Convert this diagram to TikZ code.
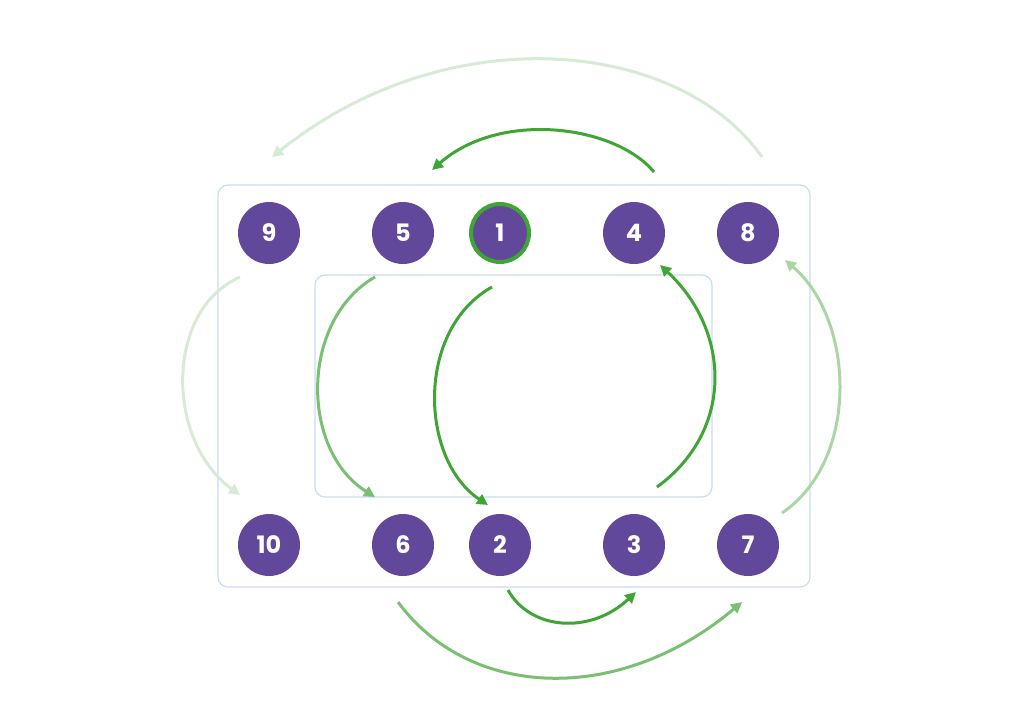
\documentclass[tikz,border=0pt]{standalone}
\usepackage{fontspec}
\setmainfont{Poppins}
\usetikzlibrary{arrows.meta}
\definecolor{pur}{HTML}{62489A}
\definecolor{grn}{HTML}{3FA535}
\definecolor{box}{HTML}{C9DDF0}
\begin{document}
\begin{tikzpicture}[x=1pt,y=-1pt,
  num/.style={circle,fill=pur,minimum size=62pt,inner sep=0pt,text=white,font=\fontsize{24}{24}\selectfont\bfseries},
  arr/.style={line width=3pt,-{Triangle[length=11pt,width=11pt]}},
  a1/.style={arr,draw=grn,color=grn},
  a2/.style={arr,draw=grn!70!white,color=grn!70!white},
  a3/.style={arr,draw=grn!45!white,color=grn!45!white},
  a4/.style={arr,draw=grn!22!white,color=grn!22!white},
  frame/.style={draw=box,line width=1.2pt,rounded corners=10pt}]
\useasboundingbox (0,0) rectangle (1024,724);
\draw[frame] (218,185) rectangle (810,587);
\draw[frame] (315,275) rectangle (712,497);
\node[num] (n9) at (269,233) {9};
\node[num] (n5) at (403,233) {5};
\node[num,draw=grn,line width=4pt,minimum size=58pt] (n1) at (500,233) {1};
\node[num] (n4) at (634,233) {4};
\node[num] (n8) at (748,233) {8};
\node[num] (n10) at (269,545) {10};
\node[num] (n6) at (403,545) {6};
\node[num] (n2) at (500,545) {2};
\node[num] (n3) at (634,545) {3};
\node[num] (n7) at (748,545) {7};
\coordinate (s45) at (654,172); \coordinate (e45) at (432,170);
\coordinate (s89) at (762,157); \coordinate (e89) at (272,157);
\coordinate (s56) at (375,277); \coordinate (e56) at (375,497);
\coordinate (s12) at (492,287); \coordinate (e12) at (488,505);
\coordinate (s34) at (657,487); \coordinate (e34) at (660,265);
\coordinate (s78) at (782,513); \coordinate (e78) at (785,260);
\coordinate (s910) at (240,277); \coordinate (e910) at (240,495);
\coordinate (s23) at (508,590); \coordinate (e23) at (636,592);
\coordinate (s67) at (398,602); \coordinate (e67) at (742,602);
\draw[a1] (s45) .. controls (615,125) and (500,110) .. (e45);
\draw[a4] (s89) .. controls (680,40) and (450,15) .. (e89);
\draw[a2] (s56) .. controls (300,320) and (300,450) .. (e56);
\draw[a1] (s12) .. controls (415,330) and (420,460) .. (e12);
\draw[a1] (s34) .. controls (735,430) and (730,330) .. (e34);
\draw[a3] (s78) .. controls (860,460) and (855,320) .. (e78);
\draw[a4] (s910) .. controls (165,310) and (165,440) .. (e910);
\draw[a1] (s23) .. controls (530,630) and (590,635) .. (e23);
\draw[a2] (s67) .. controls (470,700) and (620,705) .. (e67);
\end{tikzpicture}
\end{document}
